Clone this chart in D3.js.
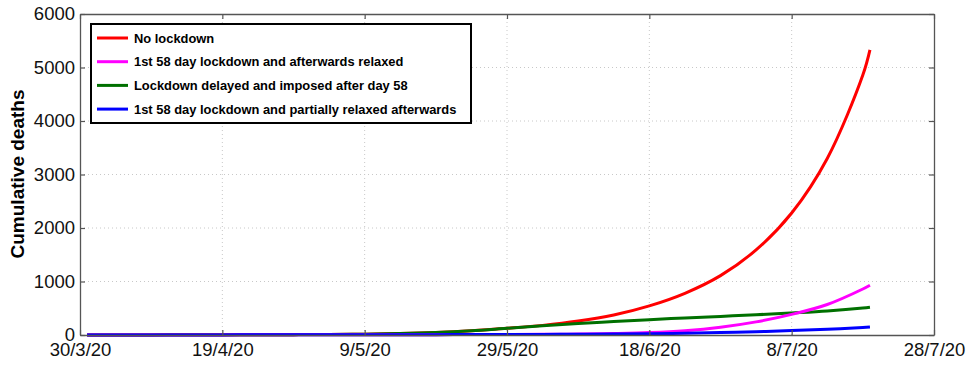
<!DOCTYPE html>
<html><head><meta charset="utf-8">
<script src="https://cdn.jsdelivr.net/npm/d3@7"></script>
<style>body{margin:0;background:#fff}svg{display:block}text{font-family:"Liberation Sans",Arial,sans-serif}</style>
</head><body><svg id="c" width="969" height="367"></svg>
<script>
const days = [1,5,10,15,20,25,30,35,40,45,50,55,60,65,70,75,80,85,90,95,100,105,110,111];
const noLockdown = [0,1,2,3,4,5,7,10,16,26,45,78,125,180,260,375,545,780,1110,1590,2280,3300,4860,5330];
const relaxed = [0,1,1,2,2,3,3,4,5,6,7,8,9,12,18,28,45,80,145,245,385,570,860,930];
const delayed = [0,1,2,3,4,5,7,10,16,26,45,78,125,172,215,252,287,318,348,378,412,450,505,520];
const partial = [0,1,1,2,2,3,3,4,5,6,7,8,9,11,14,18,24,33,45,62,82,106,140,150];
const xTickDays = [0,20,40,60,80,100,120];
const xTickLabels = ["30/3/20","19/4/20","9/5/20","29/5/20","18/6/20","8/7/20","28/7/20"];
const yTicks = [0,1000,2000,3000,4000,5000,6000];
const seriesNames = ["No lockdown","1st 58 day lockdown and afterwards relaxed","Lockdown delayed and imposed after day 58","1st 58 day lockdown and partially relaxed afterwards"];
const seriesColors = ["#ff0000","#ff00ff","#007000","#0000ff"];
const seriesValues = [noLockdown, relaxed, delayed, partial];

const svg = d3.select("#c");
const L=80,R=934,T=14,B=335;
const x = d3.scaleLinear().domain([0,120]).range([L,R]);
const y = d3.scaleLinear().domain([0,6000]).range([B,T]);

// grid
const g = svg.append("g");
g.selectAll(".vg").data(xTickDays.slice(1,-1)).join("line")
 .attr("x1",d=>x(d)).attr("x2",d=>x(d)).attr("y1",T).attr("y2",B)
 .attr("stroke","#c8c8c8").attr("stroke-width",1).attr("stroke-dasharray","1,3");
g.selectAll(".hg").data(yTicks.slice(1,-1)).join("line")
 .attr("x1",L).attr("x2",R).attr("y1",d=>y(d)).attr("y2",d=>y(d))
 .attr("stroke","#c8c8c8").attr("stroke-width",1).attr("stroke-dasharray","1,3");

// lines
const line = d3.line().x((d,i)=>x(days[i])).y(d=>y(d)).curve(d3.curveCatmullRom.alpha(0.5));
const order=[0,2,1,3];
order.forEach(k=>{
  svg.append("path").datum(seriesValues[k]).attr("d",line)
   .attr("fill","none").attr("stroke",seriesColors[k]).attr("stroke-width",3);
});

// axes
const axCol="#555";
const xb = svg.append("g").attr("transform",`translate(0,${B})`)
 .call(d3.axisBottom(x).tickValues(xTickDays).tickFormat((d,i)=>xTickLabels[i]).tickSizeInner(-5).tickSizeOuter(0));
const xt = svg.append("g").attr("transform",`translate(0,${T})`)
 .call(d3.axisTop(x).tickValues(xTickDays).tickFormat("").tickSizeInner(-5).tickSizeOuter(0));
const yl = svg.append("g").attr("transform",`translate(${L},0)`)
 .call(d3.axisLeft(y).tickValues(yTicks).tickFormat(d3.format("d")).tickSizeInner(-5).tickSizeOuter(0));
const yr = svg.append("g").attr("transform",`translate(${R},0)`)
 .call(d3.axisRight(y).tickValues(yTicks).tickFormat("").tickSizeInner(-5).tickSizeOuter(0));
[xb,xt,yl,yr].forEach(a=>{
  a.select(".domain").attr("stroke",axCol).attr("stroke-width",1.3);
  a.selectAll(".tick line").attr("stroke",axCol).attr("stroke-width",1.2);
  a.selectAll("text").attr("font-size",18.5).attr("fill","#111").attr("font-family","'Liberation Sans',Arial,sans-serif");
});
xb.selectAll("text").attr("dy","0.71em").attr("y",8);
yl.selectAll("text").attr("x",-5);

svg.append("text").attr("transform","translate(24,174) rotate(-90)")
 .attr("text-anchor","middle").attr("font-size",19).attr("font-weight","bold").text("Cumulative deaths");

// legend
const lg = svg.append("g");
lg.append("rect").attr("x",91).attr("y",24).attr("width",380).attr("height",99)
 .attr("fill","#fff").attr("stroke","#000").attr("stroke-width",2);
seriesNames.forEach((n,i)=>{
  const yy = 38 + i*23.7;
  lg.append("line").attr("x1",97).attr("x2",128).attr("y1",yy).attr("y2",yy)
   .attr("stroke",seriesColors[i]).attr("stroke-width",3);
  lg.append("text").attr("x",134).attr("y",yy).attr("dy","0.35em")
   .attr("font-size",12.9).attr("font-weight","bold").text(n);
});
</script></body></html>
